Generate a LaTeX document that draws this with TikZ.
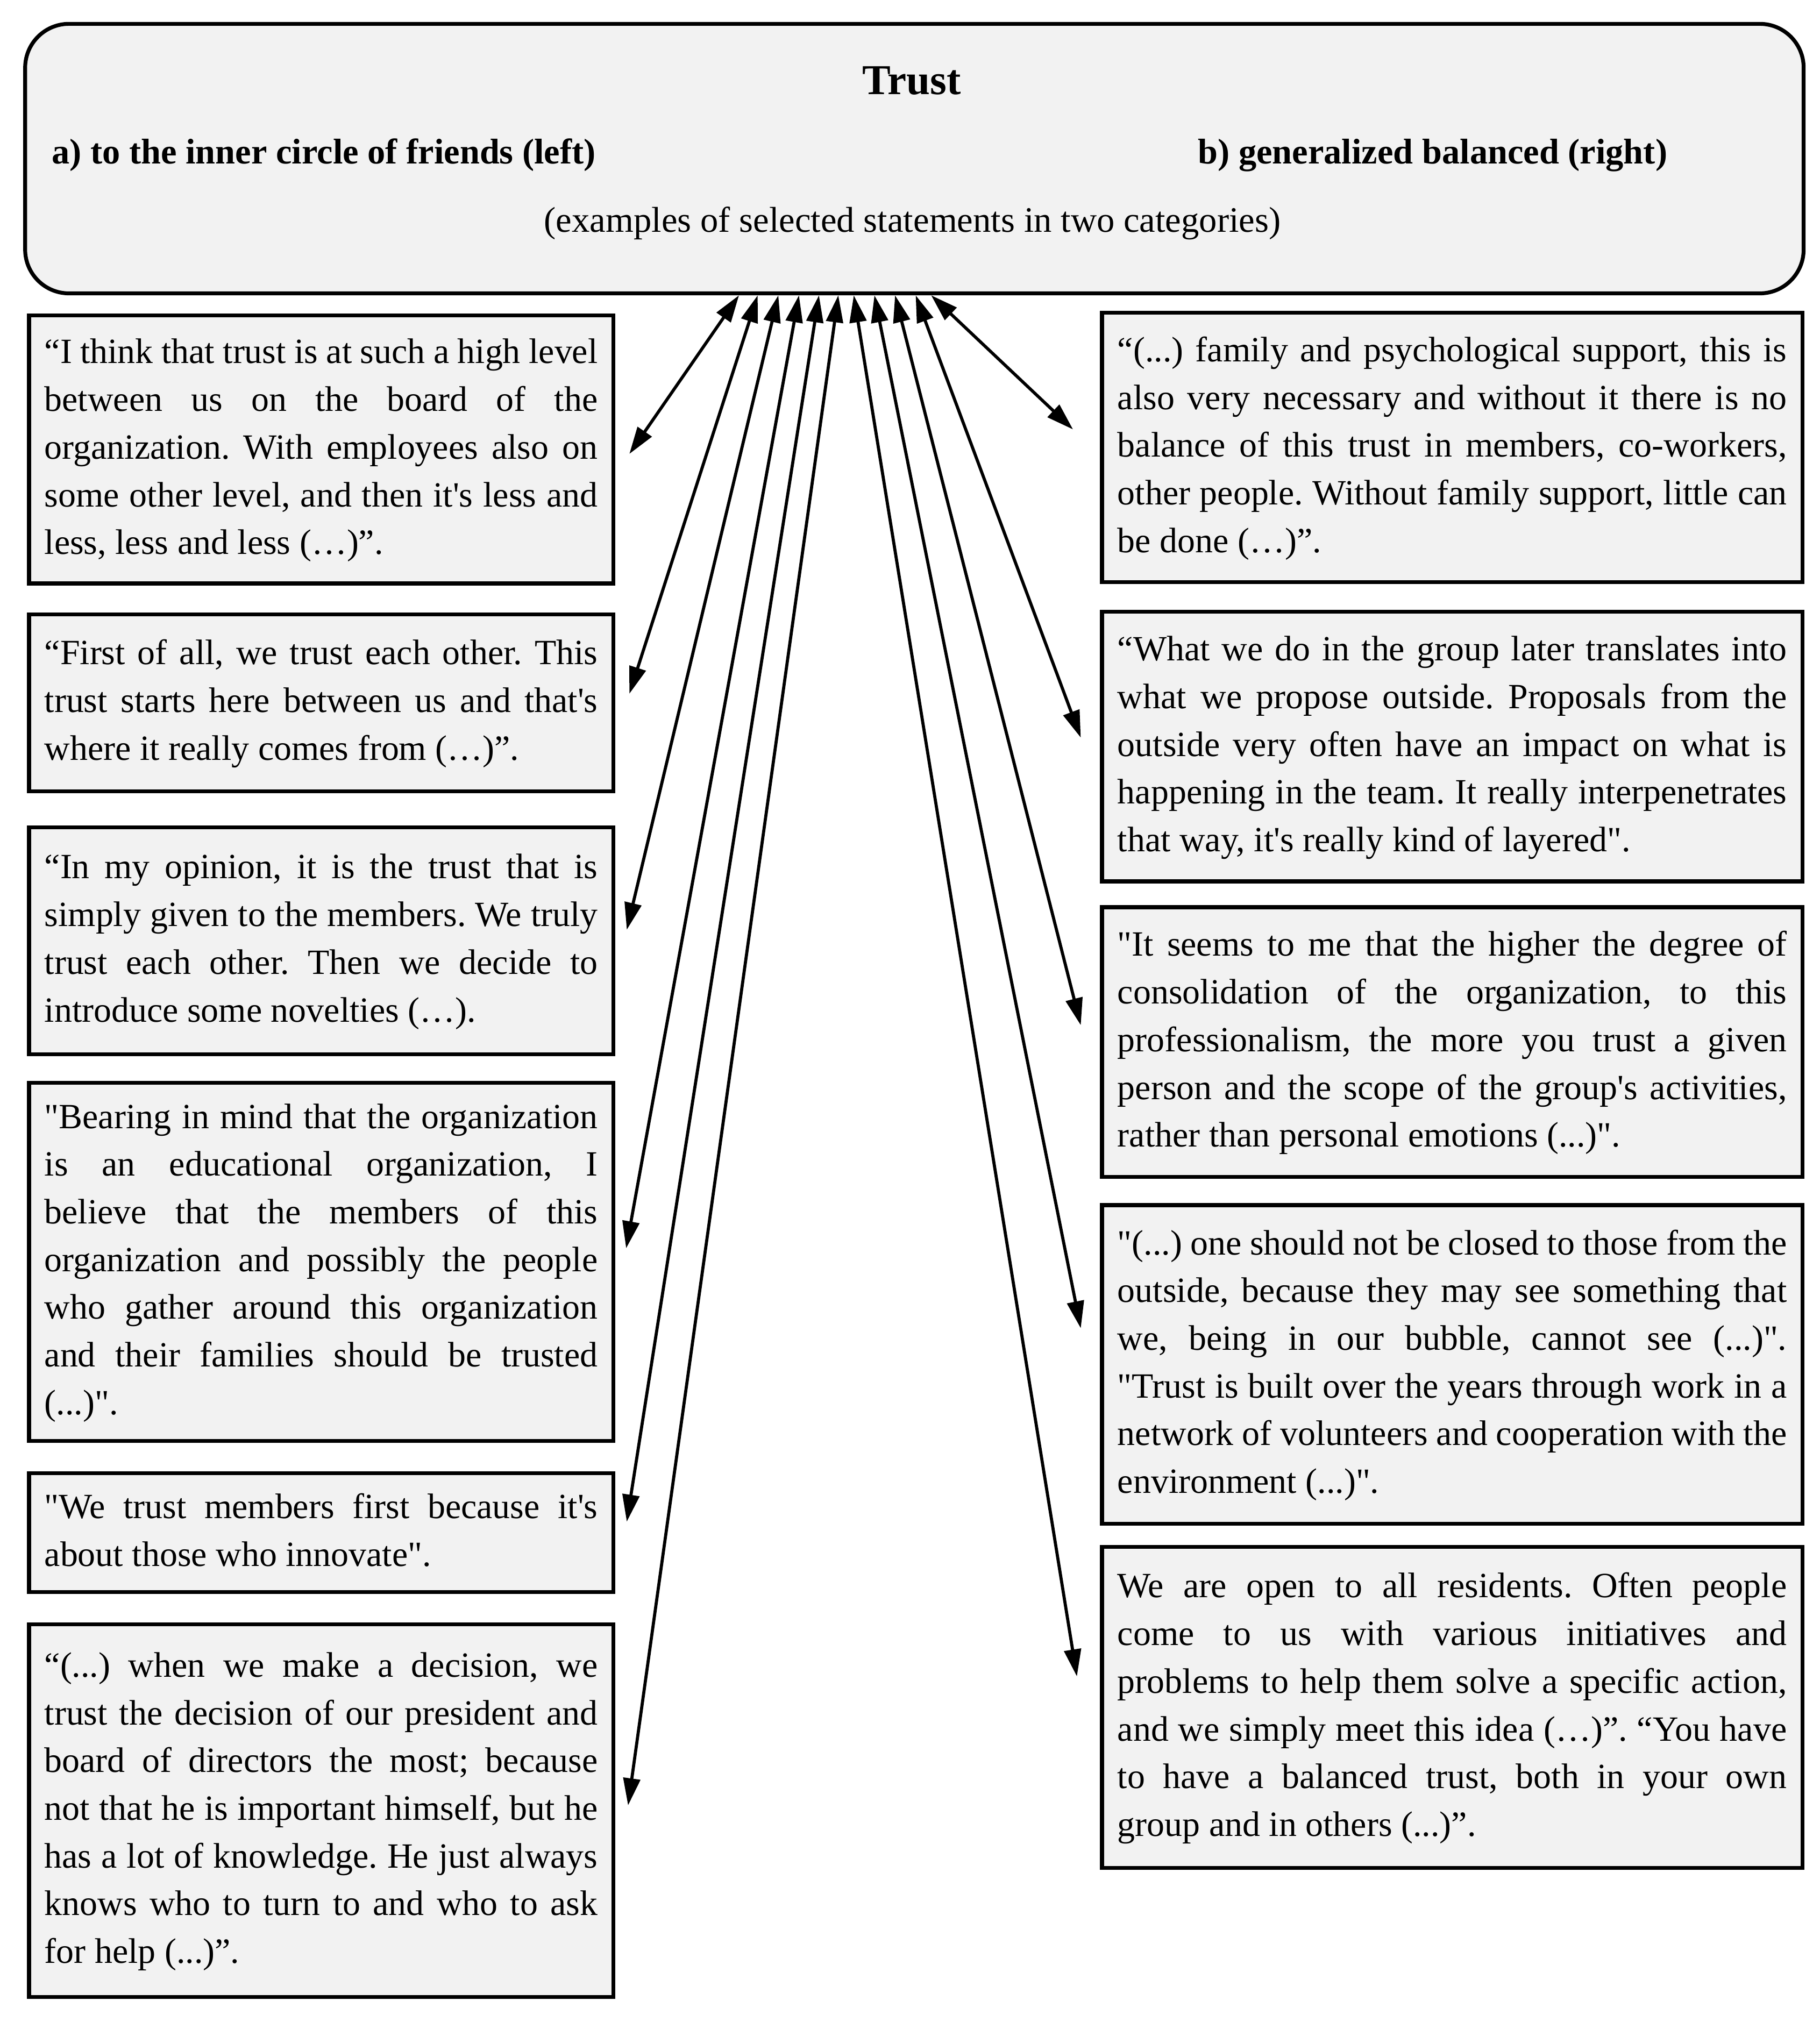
\documentclass[tikz,border=0pt]{standalone}
\usepackage{fontspec}
\setmainfont{Liberation Serif}[Ligatures=TeXOff]
\usetikzlibrary{arrows.meta}
\definecolor{boxgray}{HTML}{F2F2F2}
\setlength{\parindent}{0pt}
\frenchspacing
\def\qw{429pt}
\newcommand\jl[1]{\leavevmode\hbox to \qw{\spaceskip=\fontdimen2\font plus 1fil minus .5\fontdimen2\font
  \xspaceskip=\spaceskip\strut#1}\\}
\newcommand\lastl[1]{\leavevmode\hbox{\spaceskip=\fontdimen2\font\relax\xspaceskip=\spaceskip\strut#1}}
\begin{document}
\begin{tikzpicture}[x=1pt,y=-1pt,
  qbox/.style={draw, line width=3pt, fill=boxgray, inner xsep=12pt, inner ysep=0pt,
    align=left, anchor=north west},
  lbox/.style={qbox, text width=429pt, font=\fontsize{27.5}{37}\selectfont\frenchspacing\def\qw{429pt}},
  rbox/.style={qbox, text width=519pt, font=\fontsize{27.5}{37}\selectfont\frenchspacing\def\qw{519pt}},
  hdr/.style={inner sep=0pt, font=\fontsize{27.7}{33}\selectfont\bfseries},
  sub/.style={inner sep=0pt, font=\fontsize{27.8}{33}\selectfont},
  biarrow/.style={{Triangle[length=21pt,width=13pt]}-{Triangle[length=21pt,width=13pt]}, line width=2.4pt}]
\useasboundingbox (0,0) rectangle (1411,1568);
\fill[white] (0,0) rectangle (1411,1568);

% top box
\node[draw, line width=3pt, fill=boxgray, rounded corners=34pt, minimum width=1379pt,
  minimum height=209pt, inner sep=0pt, anchor=north west] (top) at (18,17) {};
\node[inner sep=0pt, anchor=base, font=\fontsize{33}{40}\selectfont\bfseries] (title) at (707,73) {Trust};
\node[hdr, anchor=base west] (hA) at (40,127) {a) to the inner circle of friends (left)};
\node[hdr, anchor=base east] (hB) at (1293,127) {b) generalized balanced (right)};
\node[sub, anchor=base] (hsub) at (707.5,180) {(examples of selected statements in two categories)};

% left boxes
\node[lbox, minimum height=208pt] (L1) at (21,243) {\jl{“I think that trust is at such a high level}
\jl{between us on the board of the}
\jl{organization. With employees also on}
\jl{some other level, and then it's less and}
\lastl{less, less and less (…)”.}};
\node[lbox, minimum height=137pt] (L2) at (21,475) {\jl{“First of all, we trust each other. This}
\jl{trust starts here between us and that's}
\lastl{where it really comes from (…)”.}};
\node[lbox, minimum height=176pt] (L3) at (21,640) {\jl{“In my opinion, it is the trust that is}
\jl{simply given to the members. We truly}
\jl{trust each other. Then we decide to}
\lastl{introduce some novelties (…).}};
\node[lbox, minimum height=278pt] (L4) at (21,838) {\jl{"Bearing in mind that the organization}
\jl{is an educational organization, I}
\jl{believe that the members of this}
\jl{organization and possibly the people}
\jl{who gather around this organization}
\jl{and their families should be trusted}
\lastl{(...)".}};
\node[lbox, minimum height=92pt] (L5) at (21,1141) {\jl{"We trust members first because it's}
\lastl{about those who innovate".}};
\node[lbox, minimum height=289pt] (L6) at (21,1258) {\jl{“(...) when we make a decision, we}
\jl{trust the decision of our president and}
\jl{board of directors the most; because}
\jl{not that he is important himself, but he}
\jl{has a lot of knowledge. He just always}
\jl{knows who to turn to and who to ask}
\lastl{for help (...)”.}};

% right boxes
\node[rbox, minimum height=209pt] (R1) at (853,241) {\jl{“(...) family and psychological support, this is}
\jl{also very necessary and without it there is no}
\jl{balance of this trust in members, co-workers,}
\jl{other people. Without family support, little can}
\lastl{be done (…)”.}};
\node[rbox, minimum height=209pt] (R2) at (853,473) {\jl{“What we do in the group later translates into}
\jl{what we propose outside. Proposals from the}
\jl{outside very often have an impact on what is}
\jl{happening in the team. It really interpenetrates}
\lastl{that way, it's really kind of layered".}};
\node[rbox, minimum height=209pt] (R3) at (853,702) {\jl{"It seems to me that the higher the degree of}
\jl{consolidation of the organization, to this}
\jl{professionalism, the more you trust a given}
\jl{person and the scope of the group's activities,}
\lastl{rather than personal emotions (...)".}};
\node[rbox, minimum height=247pt] (R4) at (853,933) {\jl{"(...) one should not be closed to those from the}
\jl{outside, because they may see something that}
\jl{we, being in our bubble, cannot see (...)".}
\jl{"Trust is built over the years through work in a}
\jl{network of volunteers and cooperation with the}
\lastl{environment (...)".}};
\node[rbox, minimum height=249pt] (R5) at (853,1198) {\jl{We are open to all residents. Often people}
\jl{come to us with various initiatives and}
\jl{problems to help them solve a specific action,}
\jl{and we simply meet this idea (…)”. “You have}
\jl{to have a balanced trust, both in your own}
\lastl{group and in others (...)”.}};

% arrow end points
\coordinate (tL1) at (573,229);
\coordinate (tL2) at (587.5,229);
\coordinate (tL3) at (603.5,229);
\coordinate (tL4) at (619.5,229);
\coordinate (tL5) at (635,229);
\coordinate (tL6) at (650,229);
\coordinate (tR5) at (662,229);
\coordinate (tR4) at (678,229);
\coordinate (tR3) at (694,229);
\coordinate (tR2) at (710,229);
\coordinate (tR1) at (722,229);
\coordinate (eL1) at (488,352);
\coordinate (eL2) at (488,538);
\coordinate (eL3) at (486,721);
\coordinate (eL4) at (485.5,968);
\coordinate (eL5) at (486,1180);
\coordinate (eL6) at (487,1400);
\coordinate (eR1) at (832,333);
\coordinate (eR2) at (838,572);
\coordinate (eR3) at (838,795);
\coordinate (eR4) at (838,1030);
\coordinate (eR5) at (835,1300);

\foreach \k in {L1,L2,L3,L4,L5,L6,R1,R2,R3,R4,R5}
  \draw[biarrow] (t\k) -- (e\k);
\end{tikzpicture}
\end{document}
